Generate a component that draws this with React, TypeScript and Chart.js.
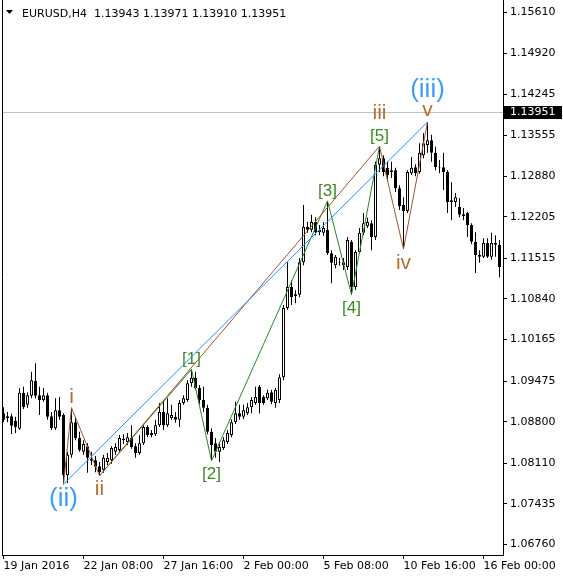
import React, { useEffect, useRef } from "react";
import { Chart, registerables } from "chart.js";

Chart.register(...registerables);

// ---- data (EURUSD H4 candles, bar 0 = 19 Jan 2016 00:00) ----
const OPEN = [
  1.0894, 1.0889, 1.0889, 1.0881, 1.0868, 1.0928, 1.0908, 1.0923, 1.0948, 1.0924,
  1.0916, 1.0924, 1.0889, 1.0869, 1.0899, 1.0891, 1.0791, 1.0825, 1.0879, 1.0853,
  1.083, 1.0839, 1.0815, 1.0816, 1.0806, 1.08, 1.0813, 1.0816, 1.083, 1.0833,
  1.0849, 1.0846, 1.0853, 1.0839, 1.0828, 1.0844, 1.0871, 1.0861, 1.0859, 1.0874,
  1.0896, 1.0874, 1.0886, 1.0888, 1.0883, 1.0911, 1.0916, 1.0944, 1.0953, 1.0936,
  1.0916, 1.0903, 1.0863, 1.0844, 1.083, 1.0836, 1.0846, 1.0858, 1.0879, 1.0894,
  1.0888, 1.0894, 1.0904, 1.0911, 1.0938, 1.0921, 1.0919, 1.0929, 1.0911, 1.0916,
  1.0954, 1.1069, 1.1104, 1.1092, 1.1091, 1.1145, 1.1204, 1.1199, 1.1212, 1.1195,
  1.1194, 1.1199, 1.116, 1.114, 1.1145, 1.114, 1.1137, 1.1179, 1.1104, 1.1162,
  1.1194, 1.1205, 1.121, 1.1187, 1.1307, 1.1318, 1.1302, 1.1295, 1.1298, 1.1268,
  1.124, 1.123, 1.1293, 1.1303, 1.1295, 1.1323, 1.134, 1.1348, 1.1327, 1.1303,
  1.1303, 1.1295, 1.1245, 1.1245, 1.1237, 1.1225, 1.1227, 1.1207, 1.1179, 1.1157,
  1.1154, 1.1177, 1.1154, 1.1177, 1.1174,
];
const HIGH = [
  1.0904, 1.0896, 1.0893, 1.0888, 1.0936, 1.0938, 1.0929, 1.0963, 1.0977, 1.0938,
  1.0936, 1.0928, 1.0896, 1.0919, 1.0921, 1.0894, 1.083, 1.0903, 1.0886, 1.0863,
  1.0849, 1.0844, 1.083, 1.0823, 1.0813, 1.0825, 1.0828, 1.0839, 1.0844, 1.0858,
  1.0859, 1.0861, 1.0874, 1.0844, 1.0858, 1.0874, 1.0874, 1.0866, 1.0883, 1.0911,
  1.0916, 1.0919, 1.0908, 1.0896, 1.0916, 1.0924, 1.0949, 1.0967, 1.0963, 1.0941,
  1.0938, 1.0908, 1.0869, 1.0853, 1.0844, 1.0854, 1.0866, 1.0884, 1.0913, 1.0908,
  1.0908, 1.0911, 1.0921, 1.0938, 1.0941, 1.0924, 1.0933, 1.0933, 1.0936, 1.0959,
  1.1074, 1.1145, 1.1115, 1.1099, 1.1152, 1.124, 1.1212, 1.1224, 1.122, 1.1207,
  1.1212, 1.1247, 1.1165, 1.1157, 1.1152, 1.1152, 1.1187, 1.1182, 1.1165, 1.1202,
  1.1227, 1.1219, 1.1215, 1.1312, 1.1338, 1.1323, 1.1312, 1.1312, 1.1302, 1.1273,
  1.1253, 1.1298, 1.132, 1.1308, 1.1343, 1.136, 1.1378, 1.1357, 1.1337, 1.1315,
  1.1327, 1.1298, 1.1278, 1.126, 1.1252, 1.1235, 1.1229, 1.121, 1.1195, 1.1165,
  1.1185, 1.1185, 1.1194, 1.119, 1.1182,
];
const LOW = [
  1.0879, 1.0879, 1.0859, 1.0861, 1.0866, 1.0901, 1.0903, 1.0919, 1.0919, 1.0891,
  1.0913, 1.0883, 1.0866, 1.0866, 1.0883, 1.0776, 1.0778, 1.082, 1.0849, 1.083,
  1.0825, 1.0795, 1.0808, 1.0796, 1.079, 1.0795, 1.0808, 1.081, 1.0825, 1.083,
  1.0843, 1.0841, 1.0835, 1.082, 1.0825, 1.0841, 1.0854, 1.0854, 1.0856, 1.0871,
  1.0866, 1.0871, 1.0883, 1.0878, 1.0871, 1.0908, 1.0913, 1.0938, 1.0933, 1.0909,
  1.0896, 1.0859, 1.0815, 1.082, 1.0813, 1.0833, 1.0843, 1.0854, 1.0876, 1.0883,
  1.0884, 1.0891, 1.0894, 1.0908, 1.0894, 1.0908, 1.0916, 1.0909, 1.0903, 1.0911,
  1.0949, 1.1066, 1.1074, 1.1077, 1.1087, 1.114, 1.1194, 1.1195, 1.119, 1.119,
  1.1189, 1.1157, 1.111, 1.1135, 1.1139, 1.1132, 1.1132, 1.1091, 1.1099, 1.1159,
  1.119, 1.1202, 1.1165, 1.1182, 1.1295, 1.1288, 1.1282, 1.1285, 1.1262, 1.1232,
  1.1167, 1.1227, 1.129, 1.1288, 1.1292, 1.1318, 1.1327, 1.1312, 1.1298, 1.1293,
  1.1265, 1.1227, 1.1215, 1.1237, 1.122, 1.1215, 1.1187, 1.1175, 1.1127, 1.1144,
  1.1152, 1.1152, 1.1149, 1.1154, 1.112,
];
const CLOSE = [
  1.0883, 1.0886, 1.0873, 1.0871, 1.0928, 1.0904, 1.0924, 1.0949, 1.0923, 1.0916,
  1.0924, 1.0888, 1.0869, 1.0899, 1.0888, 1.0791, 1.0825, 1.0879, 1.0853, 1.0833,
  1.0843, 1.082, 1.0818, 1.0805, 1.0796, 1.082, 1.082, 1.0836, 1.0838, 1.0853,
  1.0851, 1.0854, 1.0838, 1.0828, 1.0844, 1.0871, 1.0858, 1.0858, 1.0874, 1.0896,
  1.0874, 1.0894, 1.0891, 1.0883, 1.0911, 1.0919, 1.0944, 1.0953, 1.0936, 1.0916,
  1.0903, 1.0863, 1.0841, 1.083, 1.0838, 1.0849, 1.0861, 1.0879, 1.0894, 1.0888,
  1.0899, 1.0904, 1.0916, 1.0921, 1.0911, 1.0911, 1.0928, 1.0913, 1.0933, 1.0954,
  1.1069, 1.1104, 1.1087, 1.1089, 1.1145, 1.1204, 1.1199, 1.1212, 1.1195, 1.1199,
  1.1202, 1.116, 1.1144, 1.1154, 1.1144, 1.1145, 1.1182, 1.1104, 1.1162, 1.1194,
  1.121, 1.1212, 1.1187, 1.1307, 1.1318, 1.1295, 1.129, 1.1298, 1.1268, 1.1238,
  1.123, 1.1295, 1.1302, 1.1293, 1.1327, 1.1343, 1.1348, 1.1327, 1.1303, 1.1302,
  1.1295, 1.1245, 1.1248, 1.1253, 1.1224, 1.1222, 1.1207, 1.1179, 1.1157, 1.1154,
  1.1177, 1.1154, 1.1177, 1.1174, 1.1137,
];

const DATE_TICKS = [0, 20, 40, 60, 80, 100, 120];
const DATE_LABELS = [
  "19 Jan 2016",
  "22 Jan 08:00",
  "27 Jan 16:00",
  "2 Feb 00:00",
  "5 Feb 08:00",
  "10 Feb 16:00",
  "16 Feb 00:00",
];
const PRICE_TICKS = [
  1.1561, 1.1492, 1.14245, 1.13555, 1.1288, 1.12205, 1.11515, 1.1084, 1.10165,
  1.09475, 1.088, 1.0811, 1.07435, 1.0676,
];
const PRICE_MIN = 1.06583;
const PRICE_MAX = 1.1581;
const CURRENT_PRICE = 1.13951;
const SYMBOL = "EURUSD,H4";
const HEADER_OHLC = [1.13943, 1.13971, 1.1391, 1.13951];

// wave pivots: [bar index, "H" = at high | "L" = at low]
type Pivot = [number, "H" | "L"];
const BLUE_WAVE: Pivot[] = [[15, "L"], [106, "H"]];
const BROWN_WAVE: Pivot[] = [[15, "L"], [17, "H"], [24, "L"], [94, "H"], [100, "L"], [106, "H"]];
const GREEN_WAVE: Pivot[] = [[24, "L"], [47, "H"], [52, "L"], [81, "H"], [87, "L"], [94, "H"]];

const WAVE_LABELS = ["(ii)", "i", "ii", "[1]", "[2]", "[3]", "[4]", "[5]", "iii", "iv", "v", "(iii)"];
const WAVE_LABEL_BARS = [15, 17, 24, 47, 52, 81, 87, 94, 94, 100, 106, 106];
const WAVE_LABEL_SIDES = ["L", "H", "L", "H", "L", "H", "L", "H", "H", "L", "H", "H"];
const WAVE_LABEL_DEGREE = ["blue", "brown", "brown", "green", "green", "green", "green", "green", "brown", "brown", "brown", "blue"];

// ---- styles ----
const AXIS_FONT = "DejaVu Sans";
const LABEL_FONT = "Liberation Sans";
const STYLE: Record<string, { line: string; text: string; size: number }> = {
  blue: { line: "#1e90ff", text: "#3d9bff", size: 26 },
  brown: { line: "#a0522d", text: "#b86c2e", size: 21 },
  green: { line: "#228b22", text: "#3a8c1e", size: 17 },
};
const LABEL_GAP = [15, 11, 13.5, 10.5, 14, 9.5, 13.5, 10, 32.5, 14.5, 12, 32];

const pivotPrice = (p: Pivot) => (p[1] === "H" ? HIGH[p[0]] : LOW[p[0]]);
const waveData = (w: Pivot[]) => w.map((p) => ({ x: p[0], y: pivotPrice(p) }));

const overlayPlugin = {
  id: "overlay",
  beforeDatasetsDraw(chart: any) {
    const { ctx, chartArea, scales } = chart;
    const y = Math.round(scales.y.getPixelForValue(CURRENT_PRICE)) + 0.5;
    ctx.save();
    ctx.strokeStyle = "#c0c0c0";
    ctx.lineWidth = 1;
    ctx.beginPath();
    ctx.moveTo(chartArea.left, y);
    ctx.lineTo(chartArea.right, y);
    ctx.stroke();
    ctx.restore();
  },
  afterDraw(chart: any) {
    const { ctx, chartArea, scales } = chart;
    ctx.save();
    // left frame
    ctx.strokeStyle = "#000";
    ctx.lineWidth = 1;
    ctx.beginPath();
    ctx.moveTo(chartArea.left + 0.5, 0);
    ctx.lineTo(chartArea.left + 0.5, chartArea.bottom);
    ctx.stroke();

    // wave labels
    ctx.textAlign = "center";
    ctx.textBaseline = "middle";
    WAVE_LABELS.forEach((t, i) => {
      const bar = WAVE_LABEL_BARS[i];
      const side = WAVE_LABEL_SIDES[i];
      const st = STYLE[WAVE_LABEL_DEGREE[i]];
      const x = scales.x.getPixelForValue(bar);
      const py = scales.y.getPixelForValue(side === "H" ? HIGH[bar] : LOW[bar]);
      const y = side === "H" ? py - LABEL_GAP[i] : py + LABEL_GAP[i];
      ctx.font = `${st.size}px "${LABEL_FONT}"`;
      ctx.fillStyle = st.text;
      ctx.fillText(t, x, y);
    });

    // header
    ctx.fillStyle = "#000";
    ctx.beginPath();
    ctx.moveTo(6, 10);
    ctx.lineTo(13, 10);
    ctx.lineTo(9.5, 14);
    ctx.closePath();
    ctx.fill();
    ctx.font = `11px "${AXIS_FONT}"`;
    ctx.textAlign = "left";
    ctx.textBaseline = "alphabetic";
    ctx.fillText(`${SYMBOL}  ${HEADER_OHLC.map((v) => v.toFixed(5)).join(" ")}`, 22, 17);

    // current price tag
    const cy = scales.y.getPixelForValue(CURRENT_PRICE);
    ctx.fillStyle = "#000";
    ctx.fillRect(chartArea.right + 1, Math.round(cy) - 6, 58, 13);
    ctx.fillStyle = "#fff";
    ctx.textBaseline = "middle";
    ctx.fillText(CURRENT_PRICE.toFixed(5), chartArea.right + 7, Math.round(cy) + 0.5);
    ctx.restore();
  },
};

export default function App() {
  const ref = useRef<HTMLCanvasElement>(null);
  useEffect(() => {
    document.body.style.margin = "0";
    const idx = OPEN.map((_, i) => i);
    const chart = new Chart(ref.current as HTMLCanvasElement, {
      type: "bar",
      data: {
        datasets: [
          {
            type: "line",
            data: waveData(GREEN_WAVE),
            borderColor: STYLE.green.line,
            borderWidth: 1,
            pointRadius: 0,
            order: -3,
          } as any,
          {
            type: "line",
            data: waveData(BROWN_WAVE),
            borderColor: STYLE.brown.line,
            borderWidth: 1,
            pointRadius: 0,
            order: -4,
          } as any,
          {
            type: "line",
            data: waveData(BLUE_WAVE),
            borderColor: STYLE.blue.line,
            borderWidth: 1,
            pointRadius: 0,
            order: -5,
          } as any,
          {
            type: "bar",
            data: idx.map((i) => ({ x: i, y: [OPEN[i], CLOSE[i]] })),
            backgroundColor: idx.map((i) => (CLOSE[i] >= OPEN[i] ? "#ffffff" : "#000000")),
            borderColor: "#000000",
            borderWidth: 1,
            borderSkipped: false,
            barThickness: 3,
            grouped: false,
            inflateAmount: 0,
            order: 0,
          } as any,
          {
            type: "bar",
            data: idx.map((i) => ({ x: i, y: [LOW[i], HIGH[i]] })),
            backgroundColor: "#000000",
            borderWidth: 0,
            barThickness: 1,
            grouped: false,
            inflateAmount: 0,
            order: 1,
          } as any,
        ],
      },
      options: {
        responsive: false,
        animation: false,
        devicePixelRatio: 1,
        events: [],
        layout: { padding: { left: 2, top: 0, right: 0, bottom: 0 } },
        plugins: { legend: { display: false }, tooltip: { enabled: false } },
        scales: {
          x: {
            type: "linear",
            offset: false,
            min: -0.375,
            max: 124.875,
            afterBuildTicks: (s: any) => {
              s.ticks = DATE_TICKS.map((v) => ({ value: v }));
            },
            afterFit: (s: any) => {
              s.height = 24;
              s.paddingLeft = 0;
              s.paddingRight = 0;
            },
            ticks: {
              callback: (_v: any, i: number) => DATE_LABELS[i],
              align: "start",
              maxRotation: 0,
              minRotation: 0,
              autoSkip: false,
              padding: 1,
              color: "#000",
              font: { family: AXIS_FONT, size: 11 },
            },
            grid: { drawOnChartArea: false, drawTicks: true, tickLength: 4, color: "#000", offset: false },
            border: { display: true, color: "#000", width: 1 },
          } as any,
          y: {
            type: "linear",
            position: "right",
            min: PRICE_MIN,
            max: PRICE_MAX,
            afterBuildTicks: (s: any) => {
              s.ticks = PRICE_TICKS.map((v) => ({ value: v }));
            },
            afterFit: (s: any) => {
              s.width = 60;
              s.paddingTop = 0;
              s.paddingBottom = 0;
            },
            ticks: {
              callback: (v: any) => Number(v).toFixed(5),
              padding: 3,
              color: "#000",
              font: { family: AXIS_FONT, size: 11 },
            },
            grid: { drawOnChartArea: false, drawTicks: true, tickLength: 4, color: "#000" },
            border: { display: true, color: "#000", width: 1 },
          } as any,
        },
      },
      plugins: [overlayPlugin],
    } as any);
    return () => chart.destroy();
  }, []);
  return (
    <div style={{ width: 563, height: 579, background: "#fff" }}>
      <canvas ref={ref} width={563} height={579} style={{ display: "block" }} />
    </div>
  );
}
